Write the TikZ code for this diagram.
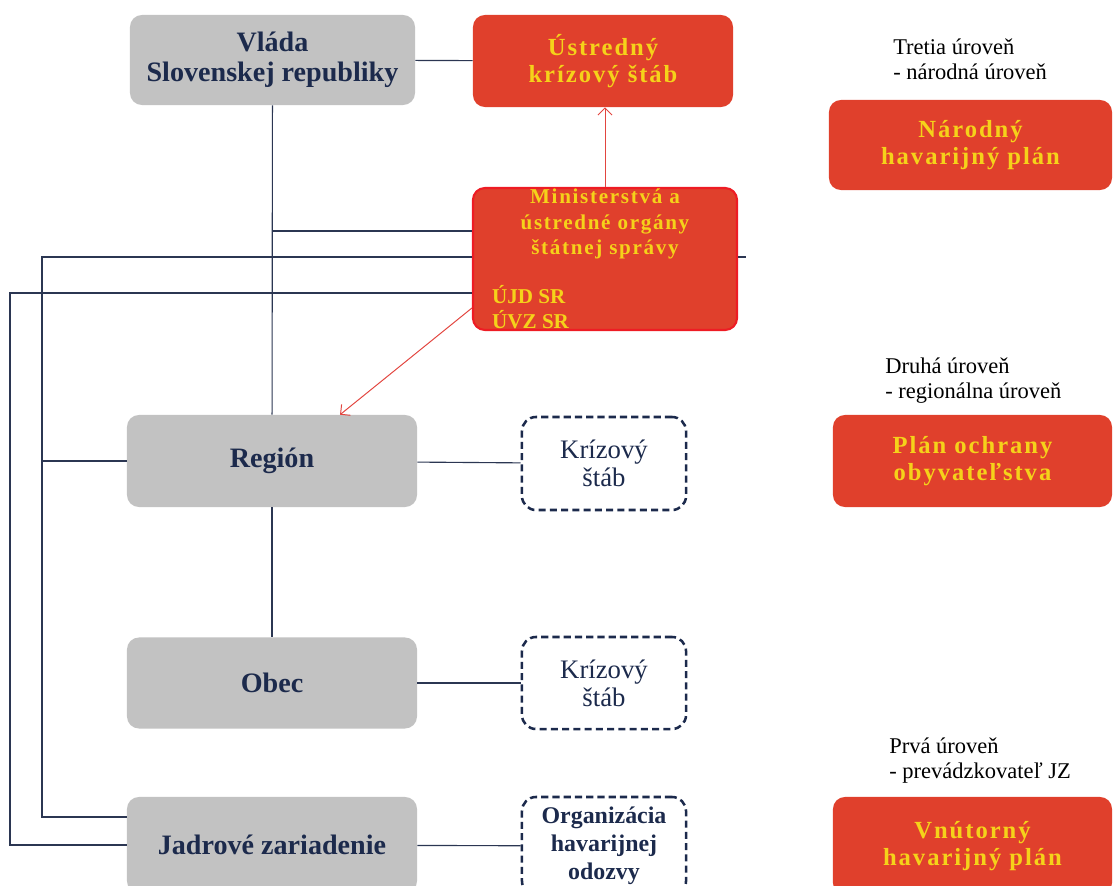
\documentclass[tikz,border=0pt]{standalone}
\usepackage{fontspec}
\setmainfont{Liberation Serif}
\newfontfamily\spacedfont[LetterSpace=8]{Liberation Serif}
\usetikzlibrary{arrows.meta}
\definecolor{navy}{HTML}{1C2A4C}
\definecolor{boxgrey}{HTML}{C2C2C2}
\definecolor{boxred}{HTML}{E0402C}
\definecolor{rimred}{HTML}{EE1C24}
\definecolor{gold}{HTML}{F5D21A}
\definecolor{wire}{HTML}{2B3652}
\definecolor{arrowred}{HTML}{E2453F}

\begin{document}
\begin{tikzpicture}[x=0.025cm,y=-0.025cm,
    greybox/.style={fill=boxgrey,rounded corners=0.3cm,inner sep=0pt,align=center,
        text=navy,font=\bfseries\fontsize{20}{21.5}\selectfont},
    redbox/.style={fill=boxred,rounded corners=0.3cm,inner sep=0pt,align=center,
        text=gold,font=\spacedfont\bfseries\fontsize{17.5}{19.5}\selectfont},
    dashbox/.style={draw=navy,line width=1.8pt,dash pattern=on 5pt off 3pt,rounded corners=0.35cm,
        inner sep=0pt,align=center,text=navy,font=\fontsize{19}{20}\selectfont},
    level/.style={anchor=north west,inner sep=0pt,align=left,font=\fontsize{16}{17.5}\selectfont},
    wire/.style={draw=wire,line width=0.8pt},
    redarrow/.style={draw=arrowred,line width=0.7pt,-{Straight Barb[length=5pt,width=10pt]}}]

    \useasboundingbox (0,0) rectangle (1113,886);
    \clip (0,0) rectangle (1113,886);

    % left column
    \node[greybox,minimum width=7.125cm,minimum height=2.25cm] (vlada) at (272.5,60) {Vláda\\Slovenskej republiky};
    \node[greybox,minimum width=7.25cm,minimum height=2.3cm] (region) at (272,461) {Región};
    \node[greybox,minimum width=7.25cm,minimum height=2.275cm] (obec) at (272,683) {Obec};
    \node[greybox,minimum width=7.25cm,minimum height=2.4cm] (jadrove) at (272,845) {Jadrové zariadenie};

    % middle column
    \node[redbox,minimum width=6.5cm,minimum height=2.3cm] (ustredny) at (603,61) {Ústredný\\krízový štáb};
    \node[redbox,draw=rimred,line width=1.5pt,minimum width=6.6cm,minimum height=3.55cm] (mini) at (605,259) {};
    \node[anchor=north,inner sep=0pt,align=center,text=gold,
        font=\spacedfont\bfseries\fontsize{15}{18}\selectfont] (minititle) at ([yshift=-0.05cm]mini.north)
        {Ministerstvá a\\ústredné orgány\\štátnej správy};
    \node[anchor=south west,inner sep=0pt,align=left,text=gold,
        font=\bfseries\fontsize{15}{18}\selectfont] (miniorg) at ([xshift=0.5cm,yshift=0.05cm]mini.south west)
        {ÚJD SR\\ÚVZ SR};
    \node[dashbox,minimum width=4.1cm,minimum height=2.325cm] (stab1) at (604,463.5) {Krízový\\štáb};
    \node[dashbox,minimum width=4.1cm,minimum height=2.3cm] (stab2) at (604,683) {Krízový\\štáb};
    \node[dashbox,minimum width=4.1cm,minimum height=2.45cm,font=\bfseries\fontsize{17}{20}\selectfont] (odozva) at (604,846)
        {Organizácia\\havarijnej\\odozvy};

    % right column
    \node[level] (lvl3) at (893,39) {Tretia úroveň\\- národná úroveň};
    \node[redbox,minimum width=7.075cm,minimum height=2.25cm] (narodny) at (970.5,145) {Národný\\havarijný plán};
    \node[level] (lvl2) at (885,358) {Druhá úroveň\\- regionálna úroveň};
    \node[redbox,minimum width=6.975cm,minimum height=2.3cm] (ochrana) at (972.5,461) {Plán ochrany\\obyvateľstva};
    \node[level] (lvl1) at (889,738) {Prvá úroveň\\- prevádzkovateľ JZ};
    \node[redbox,minimum width=6.975cm,minimum height=2.45cm] (vnutorny) at (972.5,846) {Vnútorný\\havarijný plán};

    % connectors
    \coordinate (t1) at (272,231);
    \coordinate (t2) at (42,257);
    \coordinate (t3) at (10,293);
    \draw[wire] (vlada) -- (ustredny);
    \draw[wire] (vlada) -- (region);
    \draw[wire] (region) -- (obec);
    \draw[wire] (t1) -- (t1 -| mini.west);
    \draw[wire] (t2 -| mini.west) -- (t2) |- ([yshift=0.7cm]jadrove.west);
    \draw[wire] (t2 |- region.west) -- (region.west);
    \draw[wire] (mini.east |- t2) -- ++(8,0);
    \draw[wire] (t3 -| mini.west) -- (t3) |- (jadrove.west);
    \draw[wire] (region) -- (stab1);
    \draw[wire] (obec) -- (stab2);
    \draw[wire] (jadrove) -- (odozva);

    \draw[redarrow] (mini.north) -- (mini.north |- ustredny.south);
    \draw[redarrow] ([yshift=-1.225cm]mini.west) -- ([xshift=1.7cm]region.north);
\end{tikzpicture}
\end{document}
